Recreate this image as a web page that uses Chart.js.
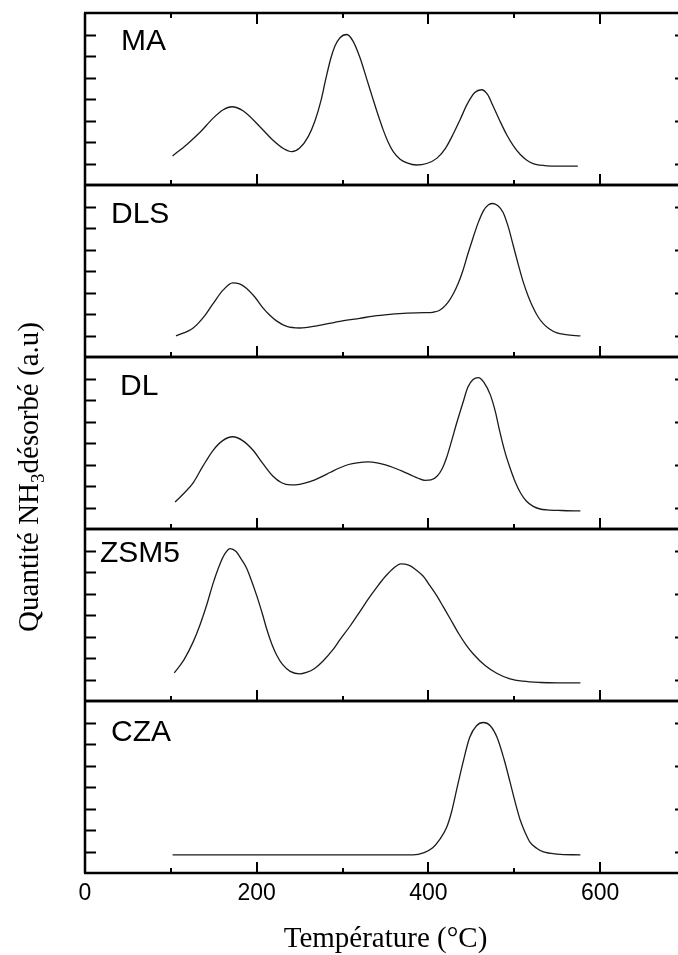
<!DOCTYPE html>
<html><head><meta charset="utf-8">
<script src="https://cdn.jsdelivr.net/npm/chart.js@4/dist/chart.umd.min.js"></script>
<style>
html,body{margin:0;padding:0;overflow:hidden;background:#fff;width:678px;height:955px}
#wrap{width:700px;height:955px}
</style>
</head><body><div id="wrap"><canvas id="c" width="700" height="955"></canvas></div>
<script>
// ---- data (temperature °C, desorbed amount a.u.) ----
const panelNames = ['MA', 'DLS', 'DL', 'ZSM5', 'CZA'];

const maT = [102,119,134,149,161,171,184,204,219,231,241,250,260,268,275,280,286,291,297,305,312,320,328,335,341,347,353,359,367,375,386,398,410,420,429,437,445,454,462,469,475,483,491,499,507,515,522,530,538,550,562,574];
const maV = [1.35,1.9,2.45,3.1,3.5,3.64,3.45,2.7,2.08,1.7,1.55,1.72,2.25,3.0,3.95,4.85,5.85,6.45,6.85,7.0,6.7,5.95,4.95,4.05,3.3,2.6,2.0,1.55,1.2,1.03,0.93,1.0,1.25,1.72,2.38,3.05,3.75,4.3,4.43,4.2,3.7,3.0,2.35,1.82,1.42,1.14,0.99,0.92,0.89,0.88,0.88,0.88];

const dlsT = [106,126,140,149,161,172,180,188,198,207,215,223,235,250,270,297,320,336,355,375,395,405,412,417,423,429,435,440,446,452,458,464,470,475,481,487,493,499,505,510,516,522,528,534,541,549,560,577];
const dlsV = [0.98,1.35,1.95,2.47,3.12,3.45,3.4,3.2,2.78,2.3,1.95,1.68,1.42,1.35,1.45,1.66,1.8,1.9,1.98,2.04,2.06,2.08,2.15,2.29,2.55,2.94,3.45,4.0,4.8,5.55,6.25,6.8,7.08,7.14,7.03,6.72,6.05,5.15,4.25,3.54,2.85,2.29,1.85,1.54,1.3,1.13,1.04,0.98];

const dlT = [105,115,126,137,149,160,172,184,196,207,219,229,239,250,262,274,286,297,307,317,330,340,350,359,370,379,388,396,403,410,416,421,427,433,440,446,452,458,465,472,478,483,489,495,501,507,514,522,530,538,555,577];
const dlV = [1.26,1.65,2.15,2.9,3.65,4.1,4.29,4.1,3.65,3.05,2.45,2.15,2.05,2.08,2.2,2.4,2.64,2.85,3.0,3.08,3.12,3.08,2.98,2.86,2.68,2.52,2.36,2.26,2.28,2.45,2.8,3.3,4.1,4.94,5.85,6.6,6.95,7.04,6.8,6.25,5.45,4.55,3.6,2.85,2.2,1.7,1.3,1.05,0.93,0.89,0.86,0.84];

const zsmT = [104,115,126,134,142,149,157,163,169,176,182,188,192,200,207,212,218,223,230,239,250,258,267,277,289,297,309,320,330,340,350,360,368,377,385,394,402,410,417,425,435,444,452,466,480,495,510,530,550,577];
const zsmV = [1.31,1.9,2.75,3.55,4.5,5.45,6.35,6.85,7.09,6.95,6.6,6.2,5.8,4.9,4.0,3.3,2.6,2.15,1.7,1.38,1.26,1.33,1.5,1.85,2.4,2.85,3.5,4.15,4.75,5.3,5.8,6.2,6.38,6.32,6.12,5.8,5.35,4.88,4.4,3.85,3.15,2.6,2.2,1.65,1.28,1.03,0.92,0.86,0.84,0.84];

const czaT = [102,200,300,382,395,405,413,421,427,433,440,448,456,464,472,480,488,495,501,507,513,518,526,534,550,577];
const czaV = [0.84,0.84,0.84,0.84,0.95,1.17,1.55,2.1,2.85,3.9,5.1,6.3,6.85,7.0,6.85,6.3,5.3,4.24,3.3,2.45,1.85,1.45,1.15,0.98,0.88,0.84];

// ---- axis ticks ----
const xTickLabels = [0, 200, 400, 600];
const xMajorTicks = [200, 400, 600];
const xMinorTicks = [100, 300, 500];
const yLeftTicks = [1, 2, 3, 4, 5, 6, 7];
const yRightTicks = [1, 3, 5, 7];

const xTitle = 'Température (°C)';
const yTitleParts = ['Quantité NH', '3', 'désorbé (a.u)'];

// ---- build ----
const series = [
  {name: 'MA', axis: 'yMA', T: maT, V: maV},
  {name: 'DLS', axis: 'yDLS', T: dlsT, V: dlsV},
  {name: 'DL', axis: 'yDL', T: dlT, V: dlV},
  {name: 'ZSM5', axis: 'yZSM5', T: zsmT, V: zsmV},
  {name: 'CZA', axis: 'yCZA', T: czaT, V: czaV}
];

const labelStyle = {
  MA: {dx: 36, dy: 37}, DLS: {dx: 26, dy: 38}, DL: {dx: 35, dy: 38},
  ZSM5: {dx: 15, dy: 33}, CZA: {dx: 26, dy: 40}
};

function yAxis() {
  return {
    type: 'linear', position: 'left', stack: 'panels', stackWeight: 1,
    min: 0, max: 8,
    ticks: {display: false},
    grid: {display: false, drawTicks: false},
    border: {display: false},
    afterFit: s => { s.width = 85; }
  };
}

const framePlugin = {
  id: 'frames',
  afterDraw(chart) {
    const ctx = chart.ctx;
    const xs = chart.scales.x;
    const L = chart.chartArea.left, R = chart.chartArea.right;
    const axes = series.map(s => chart.scales[s.axis]).sort((a, b) => a.top - b.top);
    const line = (x1, y1, x2, y2) => { ctx.beginPath(); ctx.moveTo(x1, y1); ctx.lineTo(x2, y2); ctx.stroke(); };
    ctx.save();
    ctx.strokeStyle = '#000';
    ctx.lineCap = 'butt';
    ctx.lineWidth = 2;
    axes.forEach((s, i) => {
      yLeftTicks.forEach(v => { const p = Math.round(s.getPixelForValue(v)) + 0.5; line(L, p, L + 11, p); });
      yRightTicks.forEach(v => { const p = Math.round(s.getPixelForValue(v)) + 0.5; line(R - 11, p, R, p); });
      xMajorTicks.forEach(v => { const p = Math.round(xs.getPixelForValue(v)); line(p, s.bottom, p, s.bottom - 11); });
      xMinorTicks.forEach(v => { const p = Math.round(xs.getPixelForValue(v)); line(p, s.bottom, p, s.bottom - 5); });
      if (i === 0) {
        xMajorTicks.forEach(v => { const p = Math.round(xs.getPixelForValue(v)); line(p, s.top, p, s.top + 11); });
        xMinorTicks.forEach(v => { const p = Math.round(xs.getPixelForValue(v)); line(p, s.top, p, s.top + 5); });
      }
    });
    ctx.lineWidth = 2.5;
    axes.forEach(s => { line(L - 1, s.top, R + 1, s.top); line(L - 1, s.bottom, R + 1, s.bottom); });
    line(L, axes[0].top, L, axes[axes.length - 1].bottom);
    line(R, axes[0].top, R, axes[axes.length - 1].bottom);
    ctx.fillStyle = '#000';
    ctx.font = '30px "Liberation Sans", Arial, sans-serif';
    ctx.textBaseline = 'alphabetic';
    ctx.textAlign = 'left';
    series.forEach(sr => {
      const s = chart.scales[sr.axis];
      const st = labelStyle[sr.name];
      ctx.fillText(sr.name, L + st.dx, s.top + st.dy);
    });
    const big = '29px "Liberation Serif", "Times New Roman", serif';
    const small = '19px "Liberation Serif", "Times New Roman", serif';
    ctx.font = big; const w1 = ctx.measureText(yTitleParts[0]).width;
    const w3 = ctx.measureText(yTitleParts[2]).width;
    ctx.font = small; const w2 = ctx.measureText(yTitleParts[1]).width;
    const total = w1 + w2 + w3;
    ctx.translate(38, 477);
    ctx.rotate(-Math.PI / 2);
    let u = -total / 2;
    ctx.font = big; ctx.fillText(yTitleParts[0], u, 0); u += w1;
    ctx.font = small; ctx.fillText(yTitleParts[1], u, 6); u += w2;
    ctx.font = big; ctx.fillText(yTitleParts[2], u, 0);
    ctx.restore();
  }
};

const scales = {
  x: {
    type: 'linear', min: 0, max: 700,
    afterBuildTicks: s => { s.ticks = xTickLabels.map(v => ({value: v})); },
    grid: {display: false, drawTicks: false},
    border: {display: false},
    ticks: {font: {family: '"Liberation Sans", Arial, sans-serif', size: 23}, color: '#000', padding: 7, maxRotation: 0, autoSkip: false},
    title: {display: true, text: xTitle, color: '#000',
      font: {family: '"Liberation Serif", "Times New Roman", serif', size: 29, lineHeight: 1},
      padding: {top: 0, bottom: 1}},
    afterFit: s => { s.height = 82; }
  }
};
['yCZA', 'yZSM5', 'yDL', 'yDLS', 'yMA'].forEach(id => { scales[id] = yAxis(); });

new Chart(document.getElementById('c'), {
  type: 'line',
  data: {
    datasets: series.map(sr => ({
      label: sr.name,
      yAxisID: sr.axis,
      data: sr.T.map((t, i) => ({x: t, y: sr.V[i]})),
      borderColor: '#1a1a1a',
      borderWidth: 1.3,
      pointRadius: 0,
      fill: false,
      cubicInterpolationMode: 'monotone'
    }))
  },
  options: {
    responsive: false,
    animation: false,
    devicePixelRatio: 1,
    layout: {padding: {top: 13, right: 14, left: 0, bottom: 0}},
    plugins: {legend: {display: false}, tooltip: {enabled: false}},
    scales: scales
  },
  plugins: [framePlugin]
});
</script>
</body></html>
